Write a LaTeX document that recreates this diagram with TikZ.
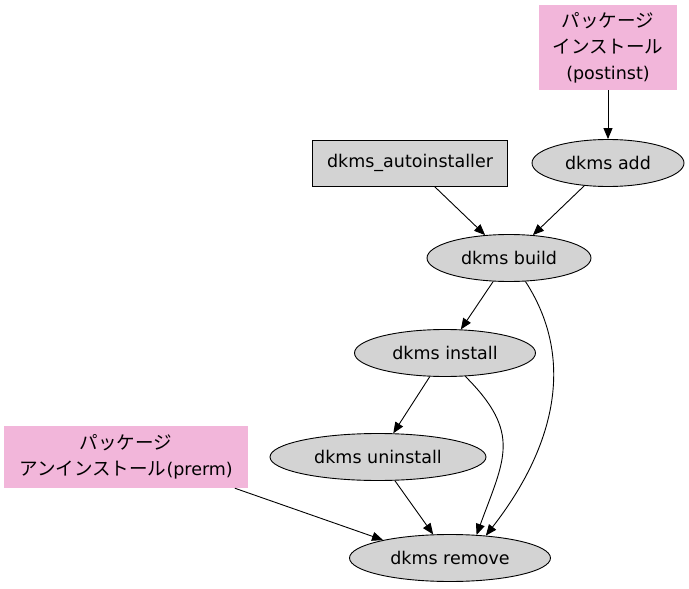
\documentclass[tikz,border=0pt]{standalone}
\usepackage{fontspec}
\setmainfont{DejaVu Sans}
\newfontfamily\jp[Scale=1.06]{Noto Sans CJK JP}
\usetikzlibrary{shapes.geometric,arrows.meta}
\definecolor{pkgpink}{RGB}{242,182,218}
\definecolor{procgray}{RGB}{211,211,211}

\begin{document}
\begin{tikzpicture}[x=1pt,y=-1pt,
  main/.style={draw,ellipse,fill=procgray,inner sep=0pt,minimum height=47pt,line width=0.9pt},
  tool/.style={draw,rectangle,fill=procgray,inner sep=0pt,minimum height=46pt,line width=0.9pt},
  pkg/.style={rectangle,fill=pkgpink,inner sep=0pt,align=center},
  edge/.style={-{Triangle[length=11pt,width=9pt]},line width=0.9pt},
  font=\fontsize{17.5}{26}\selectfont]
\useasboundingbox[fill=white] (0,0) rectangle (689,589);

\node[pkg,minimum width=138pt,minimum height=85pt] (postinst) at (608,47.5) {{\jp パッケージ}\\{\jp インストール}\\(postinst)};
\node[tool,minimum width=195pt] (auto) at (410,163) {dkms\_autoinstaller};
\node[main,minimum width=152pt] (add) at (608,163) {dkms add};
\node[main,minimum width=164pt] (build) at (509,258) {dkms build};
\node[main,minimum width=181pt] (install) at (445,353) {dkms install};
\node[main,minimum width=216pt] (uninstall) at (378,457) {dkms uninstall};
\node[pkg,minimum width=244pt,minimum height=62pt] (prerm) at (126,457) {{\jp パッケージ}\\{\jp アンインストール}(prerm)};
\node[main,minimum width=201pt] (remove) at (450,558) {dkms remove};

\draw[edge] (postinst) -- (add);
\draw[edge] (auto) -- (build);
\draw[edge] (add) -- (build);
\draw[edge] (build) -- (install);
\draw[edge] (build.-55) to[out=-57,in=52] (remove.32);
\draw[edge] (install) -- (uninstall);
\draw[edge] (install.-49) to[out=-45,in=70,looseness=1.3] (remove.41);
\draw[edge] (uninstall) -- (remove);
\draw[edge] (prerm.-16) -- (remove.165);

\end{tikzpicture}
\end{document}
